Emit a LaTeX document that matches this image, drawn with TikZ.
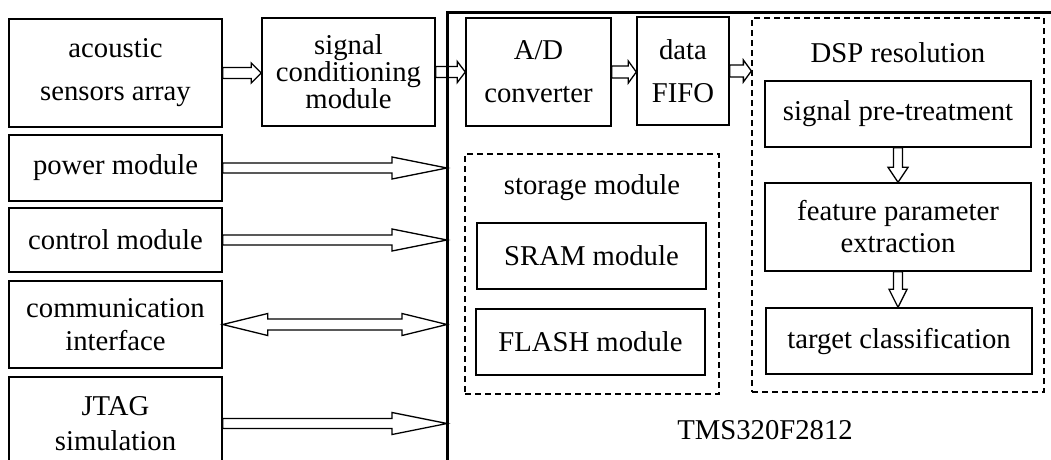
\documentclass[tikz,border=0pt]{standalone}
\usepackage{fontspec}
\setmainfont{Liberation Serif}
\usetikzlibrary{calc}
\newcommand\hollowarr[5]{% start, end, half shaft, head length, half head
  \coordinate (ha-s) at (#1);
  \coordinate (ha-e) at (#2);
  \coordinate (ha-h) at ($(ha-e)!#4!(ha-s)$);
  \draw[arrowline] ($(ha-s)!#3!90:(ha-e)$) -- ($(ha-h)!#3!90:(ha-e)$) -- ($(ha-h)!#5!90:(ha-e)$) -- (ha-e)
    -- ($(ha-h)!#5!-90:(ha-e)$) -- ($(ha-h)!#3!-90:(ha-e)$) -- ($(ha-s)!#3!-90:(ha-e)$) -- cycle;
}
\newcommand\hollowdarr[5]{% start, end, half shaft, head length, half head (two heads)
  \coordinate (ha-s) at (#1);
  \coordinate (ha-e) at (#2);
  \coordinate (ha-h) at ($(ha-e)!#4!(ha-s)$);
  \coordinate (ha-g) at ($(ha-s)!#4!(ha-e)$);
  \draw[arrowline] (ha-s) -- ($(ha-g)!#5!90:(ha-e)$) -- ($(ha-g)!#3!90:(ha-e)$) -- ($(ha-h)!#3!90:(ha-e)$)
    -- ($(ha-h)!#5!90:(ha-e)$) -- (ha-e) -- ($(ha-h)!#5!-90:(ha-e)$) -- ($(ha-h)!#3!-90:(ha-e)$)
    -- ($(ha-g)!#3!-90:(ha-e)$) -- ($(ha-g)!#5!-90:(ha-e)$) -- cycle;
}
\begin{document}
\begin{tikzpicture}[x=1pt,y=-1pt,
  box/.style={draw,line width=1.4pt,inner sep=0pt,align=center,font=\fontsize{28.7}{43}\selectfont},
  dbox/.style={draw,line width=1.3pt,dash pattern=on 6pt off 4pt,inner sep=0pt},
  lbl/.style={inner sep=0pt,font=\fontsize{28.7}{34}\selectfont},
  arrowline/.style={draw,line width=1.3pt,fill=white},
  frame/.style={line width=3pt}]
\clip (0,0) rectangle (1051,459);
\fill[white] (0,0) rectangle (1051,459);
% chip frame coordinate
\coordinate (bus) at (447,12);
\coordinate (busbottom) at (447,480);
\coordinate (busright) at (1070,12);
% dashed groups
\node[dbox,minimum width=292pt,minimum height=374pt] (dsp) at (898,205) {};
\node[dbox,minimum width=254pt,minimum height=240pt] (storage) at (592,274) {};
\node[lbl] (dsptitle) at (898,53) {DSP resolution};
\node[lbl] (stitle) at (592,188) {storage module};
\node[lbl] (chip) at (765,430) {TMS320F2812};
% left column
\node[box,minimum width=213pt,minimum height=108pt] (acoustic) at (115.5,73) {acoustic\\sensors array};
\node[box,minimum width=173pt,minimum height=108pt,font=\fontsize{28.7}{26}\selectfont] (sigcond) at (348.5,72) {signal\\conditioning\\module};
\node[box,minimum width=213pt,minimum height=66pt] (power) at (115.5,168) {power module};
\node[box,minimum width=213pt,minimum height=64pt] (control) at (115.5,240) {control module};
\node[box,minimum width=213pt,minimum height=87pt,font=\fontsize{28.7}{33}\selectfont] (comm) at (115.5,324.5) {communication\\interface};
\node[box,minimum width=213pt,minimum height=93pt,font=\fontsize{28.7}{35}\selectfont] (jtag) at (115.5,423.5) {JTAG\\simulation};
% chip internals
\node[box,minimum width=145pt,minimum height=108pt] (ad) at (538.5,72) {A/D\\converter};
\node[box,minimum width=92pt,minimum height=108pt] (fifo) at (683,71) {data\\FIFO};
\node[box,minimum width=266pt,minimum height=66pt] (pre) at (898,114) {signal pre-treatment};
\node[box,minimum width=266pt,minimum height=88pt,font=\fontsize{28.7}{32}\selectfont] (feat) at (898,227) {feature parameter\\extraction};
\node[box,minimum width=266pt,minimum height=66pt] (target) at (899,341) {target classification};
\node[box,minimum width=229pt,minimum height=66pt] (sram) at (591.5,256) {SRAM module};
\node[box,minimum width=229pt,minimum height=66pt] (flash) at (590.5,342) {FLASH module};
% arrows
\hollowarr{acoustic.east}{acoustic.east -| sigcond.west}{5.5pt}{10pt}{10pt}
\hollowarr{sigcond.east}{sigcond.east -| ad.west}{5.5pt}{8pt}{10.5pt}
\hollowarr{ad.east}{ad.east -| fifo.west}{6pt}{8pt}{11pt}
\hollowarr{fifo.east}{fifo.east -| dsp.west}{6pt}{8pt}{11pt}
\hollowarr{power.east}{power.east -| bus}{5pt}{55pt}{11pt}
\hollowarr{control.east}{control.east -| bus}{5pt}{55pt}{11pt}
\hollowdarr{comm.east}{comm.east -| bus}{5.5pt}{45pt}{11pt}
\hollowarr{jtag.east}{jtag.east -| bus}{5pt}{55pt}{11pt}
\hollowarr{pre.south}{feat.north}{4.5pt}{15pt}{10pt}
\hollowarr{feat.south}{feat.south |- target.north}{4.5pt}{18pt}{9pt}
% chip frame
\draw[frame] (busbottom) -- (bus) -- (busright);
\end{tikzpicture}
\end{document}
